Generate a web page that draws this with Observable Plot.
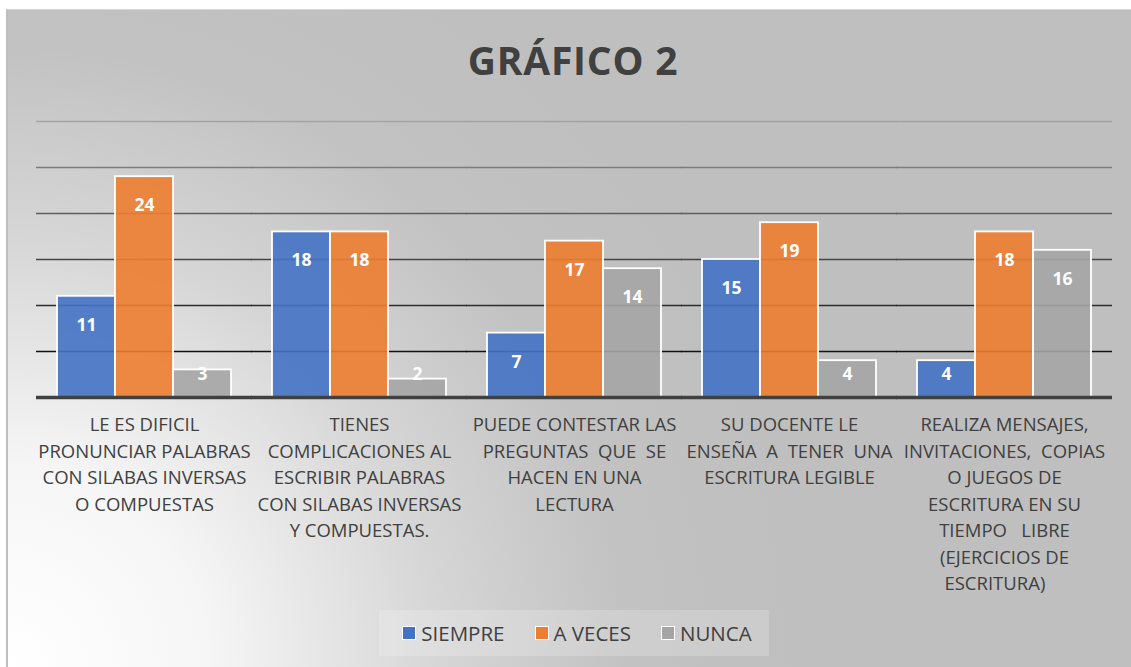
<!DOCTYPE html>
<html>
<head>
<meta charset="utf-8">
<script src="https://cdn.jsdelivr.net/npm/d3@7"></script>
<script src="https://cdn.jsdelivr.net/npm/@observablehq/plot@0.6"></script>
<style>
  html, body { margin: 0; padding: 0; background: #fff; }
  #page { position: relative; width: 1131px; height: 667px; overflow: hidden; background: #fff; font-family: "Open Sans", sans-serif; }
  #bg { position: absolute; left: 6px; top: 9px; right: 0; bottom: 0;
        border-left: 2px solid #bdbdbd; border-top: 1px solid #d6d6d6;
        background: radial-gradient(circle at 0% 100%, #ffffff 0px, #f6f6f6 200px, #d6d6d6 430px, #c2c2c2 620px, #bfbfbf 800px); }
  #title { position: absolute; left: 0; width: 1146px; top: 33px; text-align: center; font-size: 39px; font-weight: 700; color: #404040; letter-spacing: 0.8px; }
  #chart { position: absolute; left: 0; top: 100px; }
  #chart svg text { white-space: pre; }
  #legend { position: absolute; left: 379px; top: 610px; width: 390px; height: 46px; background: rgba(255,255,255,0.2);
            display: flex; align-items: center; justify-content: center; gap: 30px; font-size: 20.5px; color: #404040; padding-left: 6px; box-sizing: border-box; }
  .item { display: flex; align-items: center; gap: 5px; }
  .sw { width: 12px; height: 12px; border: 1.5px solid #fff; }
</style>
</head>
<body>
<div id="page">
  <div id="bg"></div>
  <div id="title">GRÁFICO 2</div>
  <div id="chart"></div>
  <div id="legend"></div>
</div>
<script>
const categories = [
  "LE ES DIFICIL\nPRONUNCIAR PALABRAS\nCON SILABAS INVERSAS\nO COMPUESTAS",
  "TIENES\nCOMPLICACIONES AL\nESCRIBIR PALABRAS\nCON SILABAS INVERSAS\nY COMPUESTAS.",
  "PUEDE CONTESTAR LAS\nPREGUNTAS  QUE  SE\nHACEN EN UNA\nLECTURA",
  "SU DOCENTE LE\nENSEÑA  A  TENER  UNA\nESCRITURA LEGIBLE",
  "REALIZA MENSAJES,\nINVITACIONES,  COPIAS\nO JUEGOS DE\nESCRITURA EN SU\nTIEMPO   LIBRE\n(EJERCICIOS DE\nESCRITURA)    "
];
const series = ["SIEMPRE", "A VECES", "NUNCA"];
const siempre = [11, 18, 7, 15, 4];
const aVeces = [24, 18, 17, 19, 18];
const nunca = [3, 2, 14, 4, 16];
const gridTicks = [5, 10, 15, 20, 25, 30];

const colors = ["#4472c4", "#ed7d31", "#a5a5a5"];
const gridColors = {5: "#121212", 10: "#2c2c2c", 15: "#454545", 20: "#5e5e5e", 25: "#7c7c7c", 30: "#a4a4a4"};

const seriesValues = [siempre, aVeces, nunca];
const rows = categories.flatMap((c, i) => series.map((s, j) => ({category: c, series: s, value: seriesValues[j][i]})));

const chart = Plot.plot({
  width: 1131,
  height: 510,
  marginLeft: 37,
  marginRight: 19,
  marginTop: 21,
  marginBottom: 213,
  style: {background: "transparent", fontFamily: "Open Sans, sans-serif"},
  facet: {data: rows, x: "category"},
  fx: {domain: categories, paddingInner: 0.18, paddingOuter: 0.09, axis: null, label: null},
  x: {domain: series, padding: 0, axis: null},
  y: {domain: [0, 30], axis: null},
  color: {domain: series, range: colors},
  marks: [
    Plot.ruleY(gridTicks, {y: d => d, stroke: d => gridColors[d], strokeWidth: 1.6, insetLeft: -20, insetRight: -20}),
    Plot.barY(rows, {x: "series", y: "value", fill: "series", fillOpacity: 0.9, stroke: "#ffffff", strokeWidth: 1.8}),
    Plot.ruleY([0], {stroke: "#404040", strokeWidth: 3.5, insetLeft: -20, insetRight: -20}),
    Plot.text(rows, {x: "series", y: d => Math.max(d.value - 3.15, 2.5), text: d => String(d.value), fill: "#ffffff", fontWeight: "bold", fontSize: 17.5}),
    Plot.text(rows, Plot.selectFirst({text: "category", frameAnchor: "bottom", lineAnchor: "top", dy: 15, lineHeight: 1.43, fontSize: 18.5, fill: "#404040", textAnchor: "middle"}))
  ]
});
document.getElementById("chart").appendChild(chart);

const legend = document.getElementById("legend");
series.forEach((s, i) => {
  const item = document.createElement("div");
  item.className = "item";
  const sw = document.createElement("div");
  sw.className = "sw";
  sw.style.background = colors[i];
  const lab = document.createElement("span");
  lab.textContent = s;
  item.appendChild(sw);
  item.appendChild(lab);
  legend.appendChild(item);
});
</script>
</body>
</html>
